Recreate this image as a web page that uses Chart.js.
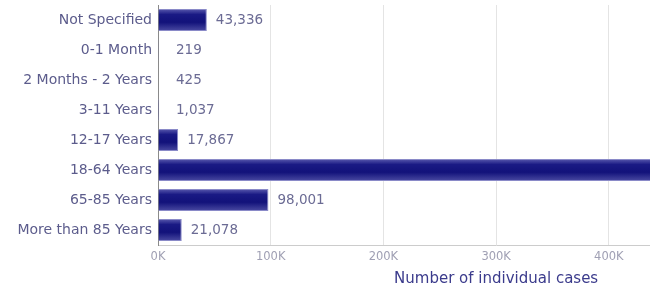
<!DOCTYPE html>
<html>
<head>
<meta charset="utf-8">
<script src="https://cdn.jsdelivr.net/npm/chart.js@4"></script>
<style>
  html, body { margin: 0; padding: 0; overflow: hidden; background: #fff; }
  #wrap { width: 854px; height: 288px; }
</style>
</head>
<body>
<div id="wrap"><canvas id="graficoIdade"></canvas></div>
<script>
// categorias e valores
const faixas = ['Not Specified', '0-1 Month', '2 Months - 2 Years', '3-11 Years',
    '12-17 Years', '18-64 Years', '65-85 Years', 'More than 85 Years'];
const casos = [43336, 219, 425, 1037, 17867, 460000, 98001, 21078];
const tituloEixo = 'Number of individual cases';

// gradiente vertical em cada barra (bordas mais claras, centro escuro)
function corBarra(context) {
    const y = context.chart.scales.y;
    if (!y || context.dataIndex === undefined) return '#1c1c85';
    const centro = y.getPixelForValue(context.dataIndex);
    if (!Number.isFinite(centro)) return '#1c1c85';
    const g = context.chart.ctx.createLinearGradient(0, centro - 11, 0, centro + 11);
    g.addColorStop(0, '#5a5aae');
    g.addColorStop(0.25, '#1a1a84');
    g.addColorStop(0.6, '#12127a');
    g.addColorStop(1, '#4a4aa2');
    return g;
}

// rótulos de valor ao lado de cada barra
const rotulosValor = {
    id: 'rotulosValor',
    afterDatasetsDraw(chart) {
        const ctx = chart.ctx;
        const base = chart.scales.x.getPixelForValue(0);
        ctx.save();
        ctx.font = '13.5px "DejaVu Sans"';
        ctx.fillStyle = '#6b6b94';
        ctx.textAlign = 'left';
        ctx.textBaseline = 'middle';
        chart.getDatasetMeta(0).data.forEach(function (bar, i) {
            const x = Math.max(bar.x + 9, base + 18);
            ctx.fillText(casos[i].toLocaleString('en-US'), x, bar.y);
        });
        ctx.restore();
    }
};

new Chart(document.getElementById('graficoIdade'), {
    type: 'bar',
    data: {
        labels: faixas,
        datasets: [{
            data: casos,
            backgroundColor: corBarra,
            borderColor: '#8a8ac8',
            borderWidth: 1,
            barPercentage: 0.74,
            categoryPercentage: 1
        }]
    },
    options: {
        indexAxis: 'y',
        responsive: true,
        maintainAspectRatio: false,
        animation: false,
        layout: { padding: { top: 5, left: 0, right: 0, bottom: 0 } },
        plugins: {
            legend: { display: false },
            tooltip: { enabled: false }
        },
        scales: {
            x: {
                min: 0,
                max: 600000,
                ticks: {
                    stepSize: 100000,
                    color: '#a0a0b4',
                    font: { family: 'DejaVu Sans', size: 11.5 },
                    padding: 5,
                    callback: function (v) { return (v / 1000) + 'K'; }
                },
                grid: { color: '#e4e4e4', drawTicks: false },
                border: { color: '#cccccc' },
                title: {
                    display: true,
                    text: tituloEixo,
                    color: '#3b3b8c',
                    font: { family: 'DejaVu Sans', size: 15 },
                    padding: { top: 3, bottom: 0 }
                },
                afterFit: function (scale) { scale.height = 43; }
            },
            y: {
                ticks: {
                    color: '#5c5c8c',
                    font: { family: 'DejaVu Sans', size: 14 },
                    padding: 6
                },
                grid: { display: false, drawTicks: false },
                border: { color: '#8a8a8a' },
                afterFit: function (scale) {
                    scale.width = 158;
                    scale.paddingTop = 0;
                    scale.paddingBottom = 0;
                }
            }
        }
    },
    plugins: [rotulosValor]
});
</script>
</body>
</html>
